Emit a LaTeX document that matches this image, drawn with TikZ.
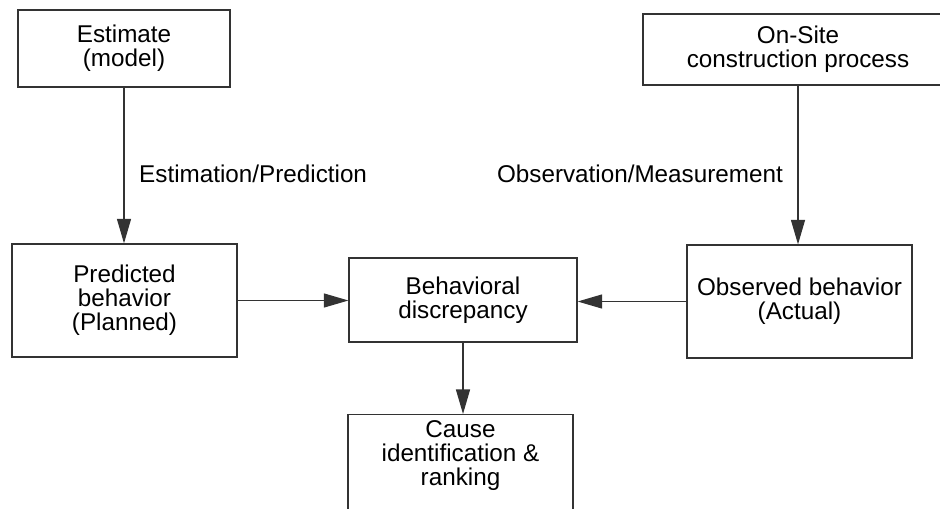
\documentclass[tikz,border=0pt]{standalone}
\usepackage{fontspec}
\setmainfont{Liberation Sans}
\usetikzlibrary{arrows.meta}

\begin{document}
\begin{tikzpicture}[
  >={Triangle[length=14pt,width=8pt]},
  font=\fontsize{13.8}{13.6}\selectfont,
  box/.style={draw=black!80,line width=.7pt,align=center,inner xsep=0pt,
    minimum width=4.5cm,minimum height=2.26cm},
  flow/.style={->,draw=black!80,line width=.7pt}
]
  \clip (0,0) rectangle (18.8,-10.16);

  % Sources.
  \node[box,minimum width=4.24cm,minimum height=1.54cm] (est) at (2.48,-0.97)
    {Estimate\\(model)};
  \node[box,minimum width=6.2cm,minimum height=1.42cm] (site) at (15.96,-0.99)
    {On-Site\\construction process};

  % Behaviors.
  \node[box] (pred) at (2.49,-6.01) {Predicted\\behavior\\(Planned)};
  \node[box,minimum width=4.56cm,minimum height=1.68cm] (beh) at (9.26,-6.0)
    {Behavioral\\discrepancy};
  \node[box] (obs) at (15.99,-6.03) {Observed behavior\\(Actual)};
  \node[box,anchor=north,text depth=1.3cm] (cause) at (9.21,-8.28)
    {Cause\\identification \&\\ranking};

  % Labels.
  \node[anchor=base west] (estlbl) at (2.66,-3.64) {Estimation/Prediction};
  \node[anchor=base east] (obslbl) at (15.78,-3.64) {Observation/Measurement};

  % Connectors.
  \draw[flow] (est.south) -- (est.south |- pred.north);
  \draw[flow] (site.south) -- (site.south |- obs.north);
  \draw[flow] (pred.east) -- (pred.east -| beh.west);
  \draw[flow] (obs.west) -- (obs.west -| beh.east);
  \draw[flow] (beh.south) -- (beh.south |- cause.north);
\end{tikzpicture}
\end{document}
